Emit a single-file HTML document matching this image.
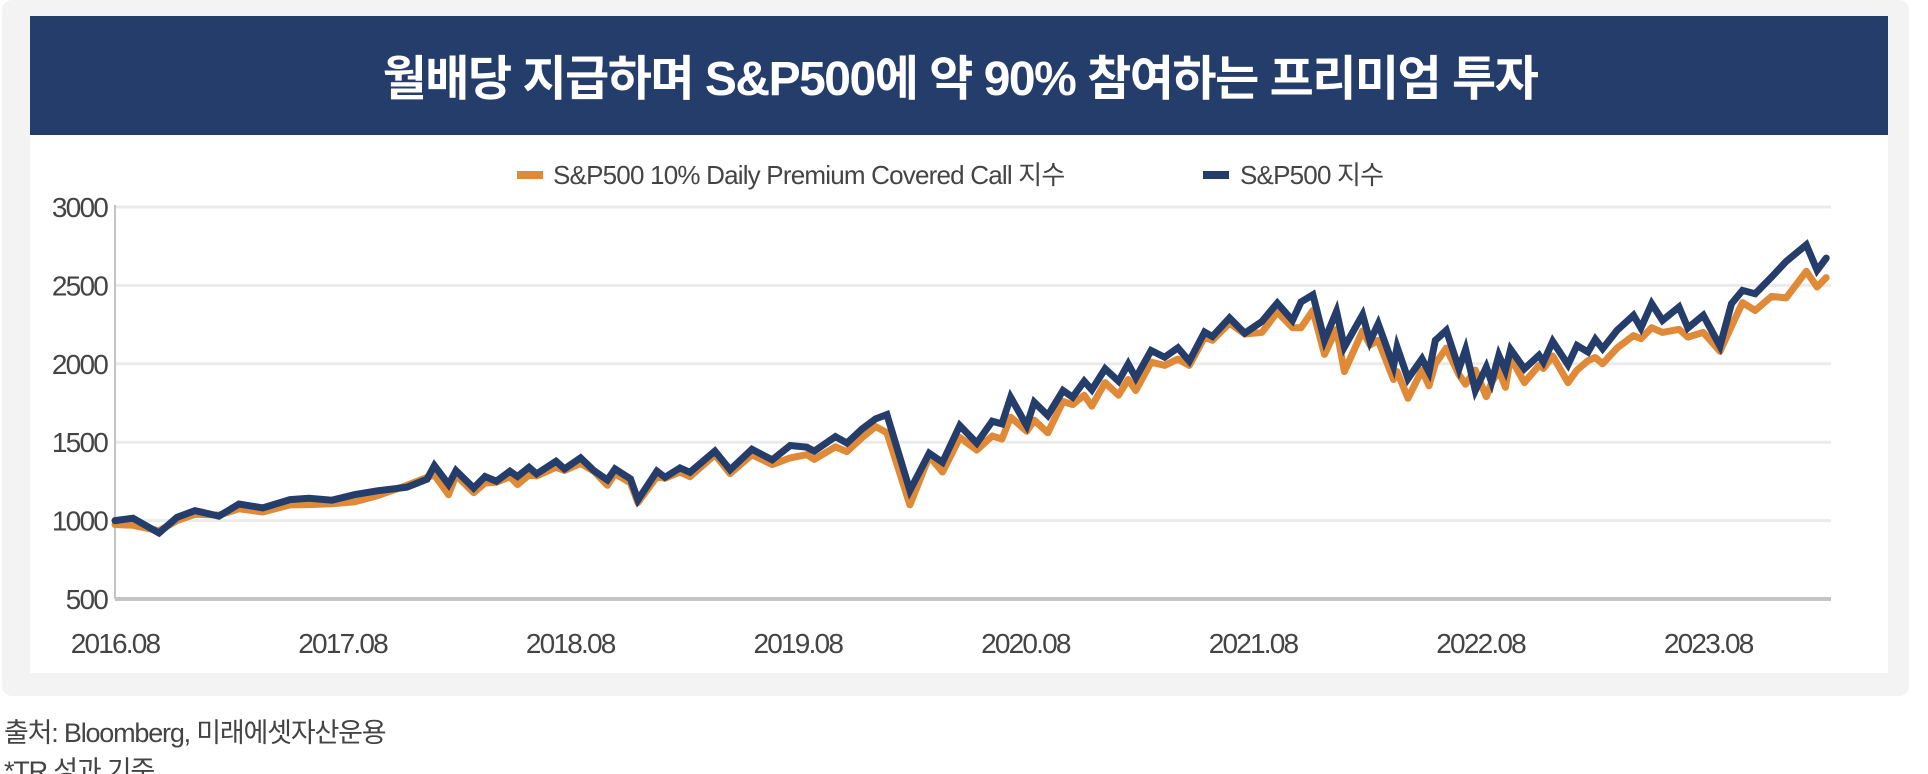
<!DOCTYPE html>
<html><head><meta charset="utf-8">
<style>
html,body{margin:0;padding:0;background:#fff;width:1928px;height:774px;overflow:hidden;}
svg text{font-family:"Liberation Sans","Noto Sans CJK KR",sans-serif;}
</style></head>
<body>
<svg id="chart" width="1928" height="774" viewBox="0 0 1928 774" xmlns="http://www.w3.org/2000/svg">
  <rect x="2" y="0" width="1907" height="696" rx="10" fill="#f3f3f3"/>
  <rect x="30" y="16" width="1858" height="119" fill="#243d6b"/>
  <text x="960" y="95" text-anchor="middle" font-size="48" font-weight="bold" fill="#fff" letter-spacing="-1.5">월배당 지급하며 S&amp;P500에 약 90% 참여하는 프리미엄 투자</text>
  <rect x="30" y="135" width="1858" height="538" fill="#fff"/>
  <g>
    <rect x="517" y="171" width="26" height="8" fill="#e08a37"/>
    <text x="553" y="184" font-size="26" fill="#444" letter-spacing="-0.8">S&amp;P500 10% Daily Premium Covered Call 지수</text>
    <rect x="1203" y="171" width="26" height="8" fill="#243d6b"/>
    <text x="1240" y="184" font-size="26" fill="#444" letter-spacing="-0.8">S&amp;P500 지수</text>
  </g>
  <g id="grid"></g>
  <g id="axes"></g>
  <g id="series"></g>
  <text x="4" y="742" font-size="27" fill="#444" letter-spacing="-1.2">출처: Bloomberg, 미래에셋자산운용</text>
  <text x="4" y="780" font-size="27" fill="#444" letter-spacing="-1.2">*TR 성과 기준</text>
</svg>
<script>
// months since 2016.08
const months = [0,0.95,2.32,3.27,4.22,5.48,6.54,7.80,9.23,10.23,11.44,12.65,13.87,15.39,16.45,16.84,17.59,17.98,18.91,19.51,20.11,20.82,21.22,21.83,22.23,23.25,23.70,24.55,25.25,25.96,26.36,27.18,27.57,28.57,29.00,29.79,30.31,
31.63,32.43,33.58,34.65,35.60,36.47,36.87,37.98,38.59,39.39,40.10,40.70,41.91,42.93,43.63,44.54,45.44,46.25,46.76,47.22,48.07,48.47,49.18,49.98,50.49,51.10,51.50,52.20,52.91,53.42,53.82,54.63,55.34,56.04,56.64,57.45,57.86,58.76,59.57,60.47,61.28,
62.08,62.53,63.16,63.77,64.40,64.82,65.78,66.17,66.60,67.41,67.60,68.17,68.91,69.28,69.61,70.19,70.86,71.21,71.72,72.30,72.58,72.96,73.31,73.58,74.31,75.08,75.31,75.80,76.61,77.08,77.66,78.05,78.43,79.19,80.06,80.45,81.02,81.59,82.46,82.93,83.74,84.62,85.23,85.81,86.48,87.34,88.11,89.17,89.74,90.22];
const sp500 = [1000,1015,921,1021,1064,1028,1106,1081,1134,1142,1130,1166,1191,1213,1264,1351,1230,1319,1208,1281,1251,1315,1281,1340,1298,1378,1330,1400,1319,1259,1330,1266,1132,1315,1276,1336,1308,
1443,1324,1455,1387,1479,1468,1443,1536,1494,1585,1649,1676,1192,1430,1372,1606,1494,1634,1617,1787,1606,1755,1670,1830,1787,1889,1834,1968,1889,1999,1910,2085,2042,2102,2017,2202,2174,2293,2195,2270,2387,
2277,2394,2440,2149,2334,2107,2313,2143,2255,1985,2107,1905,2032,1947,2149,2213,1968,2092,1830,1979,1883,2054,1958,2092,1968,2054,2011,2143,1994,2117,2075,2156,2096,2213,2309,2228,2383,2277,2362,2228,2309,2113,2383,2468,2447,2553,2653,2759,2596,2674];
const coveredCall = [975,970,935,1000,1040,1035,1075,1055,1100,1102,1108,1120,1160,1225,1275,1290,1165,1290,1178,1240,1245,1280,1230,1290,1285,1340,1320,1365,1315,1225,1300,1240,1115,1280,1270,1310,1280,
1420,1300,1420,1357,1400,1420,1390,1470,1440,1530,1600,1560,1100,1410,1310,1530,1450,1540,1520,1660,1570,1640,1560,1760,1740,1800,1730,1880,1800,1900,1830,2010,1990,2030,1990,2170,2150,2260,2190,2200,2330,
2230,2230,2340,2060,2220,1950,2210,2120,2150,1900,1950,1780,1960,1860,2000,2100,1930,1870,1960,1790,1880,1960,1850,2040,1880,1990,1970,2050,1880,1960,2020,2040,2000,2100,2180,2160,2230,2200,2220,2170,2200,2080,2240,2390,2340,2430,2420,2590,2490,2550];
const yTicks = [500,1000,1500,2000,2500,3000];
const xTickLabels = ["2016.08","2017.08","2018.08","2019.08","2020.08","2021.08","2022.08","2023.08"];
const xTickMonths = [0,12,24,36,48,60,72,84];

const NS="http://www.w3.org/2000/svg";
const X0=115, PXM=227.6/12, XEND=1831;
const Y0=599, PXV=78.4/500;
function xs(m){return X0+m*PXM;}
function ys(v){return Y0-(v-500)*PXV;}
function mk(tag,attrs,parent){const e=document.createElementNS(NS,tag);for(const k in attrs)e.setAttribute(k,attrs[k]);parent.appendChild(e);return e;}
const grid=document.getElementById('grid'), axes=document.getElementById('axes'), series=document.getElementById('series');
yTicks.forEach(v=>{
  if(v>500){
    const l=mk('line',{x1:X0,x2:XEND,y1:ys(v),y2:ys(v),stroke:'#ebebeb','stroke-width':3},grid);
    
    
  }
  const t=mk('text',{x:107,y:ys(v)+10,'text-anchor':'end','font-size':28,fill:'#444','letter-spacing':'-1.8'},axes);
  t.textContent=v;
  
  
});
const ya=mk('line',{x1:X0,x2:X0,y1:ys(3000)-2,y2:Y0,stroke:'#c4c4c4','stroke-width':2},axes);


const xa=mk('line',{x1:X0,x2:XEND,y1:Y0,y2:Y0,stroke:'#c4c4c4','stroke-width':4},axes);


xTickLabels.forEach((lab,i)=>{
  const t=mk('text',{x:xs(xTickMonths[i]),y:653,'text-anchor':'middle','font-size':28,fill:'#444','letter-spacing':'-1.8'},axes);
  t.textContent=lab;
  
  
});
function path(vals){return vals.map((v,i)=>(i?'L':'M')+xs(months[i]).toFixed(1)+','+ys(v).toFixed(1)).join(' ');}
const po=mk('path',{d:path(coveredCall),fill:'none',stroke:'#e08a37','stroke-width':7,'stroke-linejoin':'round','stroke-linecap':'round'},series);


const pb=mk('path',{d:path(sp500),fill:'none',stroke:'#243d6b','stroke-width':7,'stroke-linejoin':'miter','stroke-linecap':'round'},series);


</script>
</body></html>
